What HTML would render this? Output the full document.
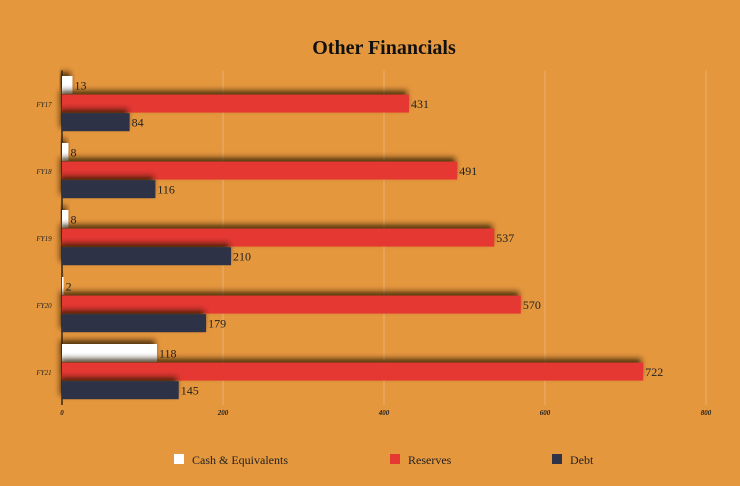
<!DOCTYPE html>
<html><head><meta charset="utf-8"><style>
body{margin:0;background:#E5973D;}
svg{display:block;font-family:"Liberation Serif",serif;}
</style></head><body>
<svg width="740" height="486">
<defs><filter id="sh" x="-20%" y="-60%" width="140%" height="200%"><feDropShadow dx="-2" dy="-4" stdDeviation="3" flood-color="#2a1a05" flood-opacity="0.8"/></filter></defs>
<rect width="740" height="486" fill="#E5973D"/>
<text x="384" y="54" text-anchor="middle" font-size="20" font-weight="bold" fill="#111">Other Financials</text>
<g id="grid"></g><g id="bars"></g><g id="labels"></g>
<g>
<rect x="174" y="454" width="10" height="10" fill="#fff"/>
<text x="192" y="464" font-size="12" fill="#222">Cash &amp; Equivalents</text>
<rect x="390" y="454" width="10" height="10" fill="#E53831"/>
<text x="408" y="464" font-size="12" fill="#222">Reserves</text>
<rect x="552" y="454" width="10" height="10" fill="#2F3347"/>
<text x="570" y="464" font-size="12" fill="#222">Debt</text>
</g>
</svg>
<script>
const categories=["FY17","FY18","FY19","FY20","FY21"];
const cash=[13,8,8,2,118];
const reserves=[431,491,537,570,722];
const debt=[84,116,210,179,145];
const ticks=[0,200,400,600,800];
const NS="http://www.w3.org/2000/svg";
const x0=62,xs=(706-62)/800,top0=70.5,band=67,bh=18.6,pad=5.5;
const X=v=>x0+v*xs;
function mk(t,a,p){const e=document.createElementNS(NS,t);for(const k in a)e.setAttribute(k,a[k]);p.appendChild(e);return e;}
const grid=document.getElementById('grid'),bars=document.getElementById('bars'),labels=document.getElementById('labels');
ticks.forEach(t=>{
 if(t>0){const l=mk('line',{x1:X(t),x2:X(t),y1:top0,y2:405,stroke:'#ebb170','stroke-width':1},grid);
 
 }
 const tx=mk('text',{x:X(t),y:415,'font-size':7,'font-style':'italic','font-weight':'bold','text-anchor':'middle',fill:'#222'},grid);
 tx.textContent=t;
 
 
});
const ax=mk('line',{x1:x0,x2:x0,y1:top0,y2:405,stroke:'#3a2a10','stroke-width':1.5},grid);


const series=[[cash,'#ffffff','cash'],[reserves,'#E53831','reserves'],[debt,'#2F3347','debt']];
categories.forEach((c,i)=>{
 const gy=top0+i*band;
 const cl=mk('text',{x:44,y:gy+band/2+3,'font-size':7,'font-style':'italic','text-anchor':'middle',fill:'#222'},labels);
 cl.textContent=c;
 
 
 series.forEach((s,j)=>{
  const v=s[0][i],y=gy+pad+j*bh;
  const r=mk('rect',{x:x0,y:y,width:Math.max(v*xs,1),height:bh-0.6,fill:s[1],filter:'url(#sh)'},bars);
  
  
  const t=mk('text',{x:X(v)+2,y:y+bh/2+4,'font-size':12,fill:'#222'},labels);
  t.textContent=v;
  
  
 });
});
</script>
</body></html>
